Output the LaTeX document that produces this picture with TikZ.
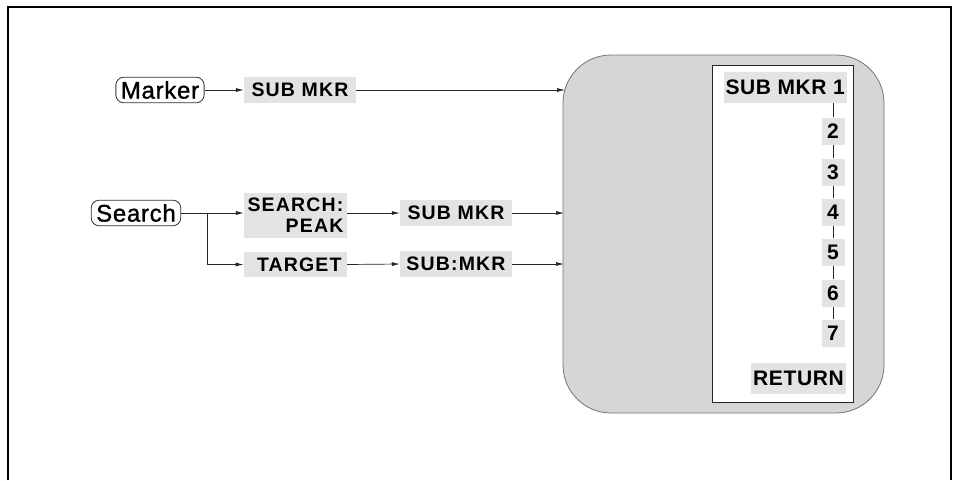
\documentclass[tikz,border=0pt]{standalone}
\usepackage{fontspec}
\setmainfont{Liberation Sans}
\newfontfamily\lblfont[LetterSpace=6]{Liberation Sans Bold}
\newfontfamily\rlblfont[LetterSpace=3]{Liberation Sans Bold}
\newfontfamily\btnfont[LetterSpace=3,FakeBold=1.2]{Liberation Sans}
\usetikzlibrary{arrows.meta,positioning}
\definecolor{shade}{gray}{0.84}
\definecolor{lshade}{gray}{0.89}
\tikzset{
  lbl/.style={fill=lshade, inner xsep=2pt, inner ysep=3pt, font=\lblfont\fontsize{19.5}{21}\selectfont, text=black, align=right},
  rlbl/.style={lbl, font=\rlblfont\fontsize{21}{23}\selectfont},
  btn/.style={draw=black!80, line width=0.8pt, rounded corners=8pt, fill=white, inner xsep=5pt, inner ysep=4pt, font=\btnfont\fontsize{24}{26}\selectfont},
  conn/.style={line width=0.7pt, draw=black!85},
  arr/.style={conn, -{Latex[length=8pt,width=4pt]}},
  num/.style={rlbl, minimum width=23pt, minimum height=27pt, inner xsep=1pt}
}
\begin{document}
\begin{tikzpicture}[x=1pt,y=-1pt]
\useasboundingbox (0,0) rectangle (959,480);
% frame
\draw[line width=2.5pt] (8,480) -- (8,7) -- (951,7) -- (951,480);
% big box
\draw[fill=shade, draw=black!55, line width=0.8pt, rounded corners=48pt] (563,55) rectangle (884,413);
\draw[fill=white, draw=black!85, line width=0.8pt] (712,65) rectangle (853,402);
\coordinate (in1) at (565,90);
\coordinate (in2) at (564,213);
\coordinate (in3) at (564,264);
% left nodes
\node[btn] (marker) at (160,90) {Marker};
\node[lbl, minimum width=112pt, minimum height=26pt] (mk1) at (300,90) {SUB MKR};
\node[btn] (search) at (136,213) {Search};
\node[lbl, minimum width=103pt, minimum height=45pt, inner xsep=2pt, align=right] (sp) at (295.5,215.5) {\hfill SEARCH:\\\hfill PEAK};
\node[lbl, minimum width=112pt, minimum height=26pt] (sm2) at (456,213) {SUB MKR};
\node[lbl, minimum width=103pt, minimum height=25pt, anchor=east] (tg) at (347,264.5) {\hspace*{8pt}TARGET};
\node[lbl, minimum width=112pt, minimum height=26pt] (sm3) at (456,264) {SUB:MKR};
\coordinate (br) at (207,213);
% right items
\node[rlbl, anchor=east, minimum height=31pt] (s1) at (847,87) {SUB MKR 1};
\node[num] (n2) at (833,131) {2};
\node[num] (n3) at (833,172) {3};
\node[num] (n4) at (833,212) {4};
\node[num] (n5) at (833,252) {5};
\node[num] (n6) at (833,293) {6};
\node[num] (n7) at (833,333) {7};
\node[rlbl, anchor=east, minimum height=31pt] (ret) at (846,378) {RETURN};
% connectors
\draw[arr] (marker.east) -- (mk1.west);
\draw[arr] (mk1.east) -- (in1);
\draw[conn] (search.east) -- (br);
\draw[arr] (br) -- (sp.west |- br);
\draw[arr] (br) |- (tg.west);
\draw[arr] (sp.east |- sm2.west) -- (sm2.west);
\draw[arr] (sm2.east) -- (in2);
\draw[arr] (tg.east) -- (sm3.west);
\draw[arr] (sm3.east) -- (in3);
\draw[conn] (n2.north |- s1.south) -- (n2.north);
\draw[conn] (n2.south) -- (n3.north);
\draw[conn] (n3.south) -- (n4.north);
\draw[conn] (n4.south) -- (n5.north);
\draw[conn] (n5.south) -- (n6.north);
\draw[conn] (n6.south) -- (n7.north);
\end{tikzpicture}
\end{document}
